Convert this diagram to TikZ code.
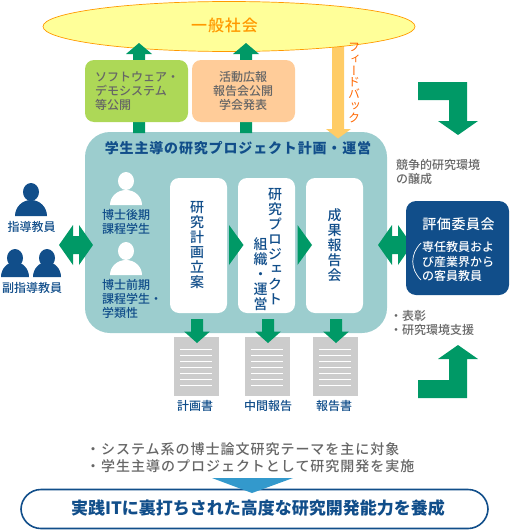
\documentclass[tikz,border=0pt]{standalone}
\usepackage{fontspec}
\newfontfamily\jp{Noto Sans CJK JP}
\newfontfamily\jpb{Noto Sans CJK JP Medium}
\newfontfamily\jpvb[RawFeature={+vert}]{Noto Sans CJK JP Medium}
\newfontfamily\jpv[RawFeature={+vert}]{Noto Sans CJK JP}
\definecolor{agreen}{HTML}{009966}
\definecolor{navy}{HTML}{114E8A}
\definecolor{teal}{HTML}{9CCDCE}
\definecolor{gtxt}{HTML}{666666}
\definecolor{sorange}{HTML}{FFCC99}
\definecolor{lime}{HTML}{ADD857}
\definecolor{fb}{HTML}{FFCC66}
\definecolor{docg}{HTML}{CCCCCC}
\definecolor{oline}{HTML}{FF9900}
\definecolor{ored}{HTML}{FF6600}
\definecolor{sky}{HTML}{3399CC}
\definecolor{ellfill}{HTML}{FFFF99}
\tikzset{
  gtext/.style={inner sep=0pt,text=gtxt,font=\jpb\fontsize{12}{14.2}\selectfont},
  ntext/.style={inner sep=0pt,text=navy,font=\jpb\fontsize{12}{14.2}\selectfont},
  vtext/.style={inner sep=0pt,text=navy,align=center,font=\jpvb\fontsize{14}{15}\selectfont},
  whitebox/.style={fill=white,rounded corners=9pt},
  grn/.style={fill=agreen},
}
\newcommand{\UpArrow}[3]{% cx, tip y, shaft bottom y
  \fill[grn] (#1-6,#3) -- (#1-6,#2+11) -- (#1-13,#2+11) -- (#1,#2) -- (#1+13,#2+11) -- (#1+6,#2+11) -- (#1+6,#3) -- cycle;}
\newcommand{\DownArrow}[1]{% cx
  \fill[grn] (#1-6,319) -- (#1-6,331.5) -- (#1-13,331.5) -- (#1,343) -- (#1+13,331.5) -- (#1+6,331.5) -- (#1+6,319) -- cycle;}
\newcommand{\Tri}[1]{\fill[grn] (#1,225) -- (#1+14.5,245) -- (#1,265) -- cycle;}
\newcommand{\DblArrow}[1]{% left tip x
  \fill[grn] (#1,245) -- (#1+14,225) -- (#1+14,236) -- (#1+20,236) -- (#1+20,225) -- (#1+34,245)
    -- (#1+20,265) -- (#1+20,254) -- (#1+14,254) -- (#1+14,265) -- cycle;}
\newcommand{\Person}[6]{% cx, head y, bottom y, half width, body height, colour
  \fill[#6] (#1,#2) ellipse [x radius=8pt,y radius=9pt];
  \fill[#6] (#1-#4,#3) arc [start angle=180,end angle=0,x radius=#4pt,y radius=#5pt] -- cycle;}
\newcommand{\Doc}[1]{% left x
  \fill[docg] (#1,337) rectangle (#1+45,395.5);
  \foreach \yy in {349.3,355.3,361.3,367.3,373.3,379.3,385.3}
    \draw[white,line width=0.7pt] (#1+6,\yy) -- (#1+38,\yy);}
\begin{document}
\begin{tikzpicture}[x=1pt,y=-1pt]
\useasboundingbox (0,0) rectangle (509,530);
% main panel
\fill[teal,rounded corners=25pt] (85,132) rectangle (387,333);
% feedback arrow, running from under the ellipse onto the panel
\fill[fb] (332,40) -- (344,40) -- (344,129) -- (351,129) -- (338,138.5) -- (326,129) -- (332,129) -- cycle;
% ellipse
\draw[oline,line width=0.7pt,fill=ellfill] (229,26.5) ellipse [x radius=186pt,y radius=25pt];
\UpArrow{139}{43}{133}
\UpArrow{246}{43}{133}
\node[inner sep=0pt,text=oline,font=\jpb\fontsize{16}{18}\selectfont\addfontfeature{LetterSpace=6}] (society) at (224.5,25) {一般社会};
% publication boxes
\fill[lime,rounded corners=9pt] (85,60) rectangle (188,122);
\fill[sorange,rounded corners=9pt] (192,60) rectangle (295,122);
\node[gtext,anchor=west,align=left] (soft) at (95,91) {ソフトウェア・\\デモシステム\\等公開};
\node[gtext,align=center] (pr) at (243,91) {活動広報\\報告会公開\\学会発表};
\node[inner sep=0pt,text=navy,font=\jp\bfseries\fontsize{14}{16}\selectfont\addfontfeature{LetterSpace=6}] (title) at (238,148) {学生主導の研究プロジェクト計画・運営};
\node[inner sep=0pt,text=ored,align=center,font=\jpv\fontsize{12}{11.7}\selectfont] (feedback) at (354,83) {フ\\ィ\\ー\\ド\\バ\\ッ\\ク};
% students
\Person{126}{181}{205}{16}{15}{white}
\Person{126}{251}{275}{16}{15}{white}
\node[ntext,anchor=west,align=left] (dr) at (102,222) {博士後期\\課程学生};
\node[ntext,anchor=west,align=left] (ms) at (102,299) {博士前期\\課程学生・\\学類性};
% stages
\fill[whitebox] (170,178) rectangle (227,313);
\fill[whitebox] (238,178) rectangle (295,313);
\fill[whitebox] (306,178) rectangle (363,313);
\node[vtext] (plan) at (197,245.5) {研\\究\\計\\画\\立\\案};
\node[vtext] (proj) at (275,246.5) {研\\究\\プ\\ロ\\ジ\\ェ\\ク\\ト};
\node[vtext] (org) at (260.5,274) {組\\織\\・\\運\\営};
\node[vtext] (rep) at (334.5,245) {成\\果\\報\\告\\会};
\Tri{229}
\Tri{297.5}
% advisers
\Person{31}{192}{216}{16}{16}{navy}
\Person{15}{258}{277}{14}{15}{navy}
\Person{47}{258}{277}{14}{15}{navy}
\node[ntext] (adv) at (31.5,227) {指導教員};
\node[ntext] (sub) at (32,288) {副指導教員};
\DblArrow{59}
\DblArrow{378}
% committee
\fill[navy,rounded corners=10pt] (406,201) rectangle (509,295);
\node[inner sep=0pt,text=white,font=\jpb\fontsize{14}{16}\selectfont\addfontfeature{LetterSpace=4}] (cttee) at (458.5,224) {評価委員会};
\node[inner sep=0pt,text=white,anchor=west,align=left,font=\jpb\fontsize{12}{14.4}\selectfont] (cmem) at (422,261.5) {専任教員およ\\び産業界から\\の客員教員};
\draw[white,line width=0.7pt] (421,243) .. controls (410,254) and (410,269) .. (421,280);
% right notes
\node[gtext,anchor=west,align=left] (comp) at (396,172) {競争的研究環境\\の醸成};
\node[gtext,anchor=west,align=left] (award) at (390,323) {・表彰\\・研究環境支援};
% corner arrows
\fill[grn] (418,82) -- (467,82) -- (467,121) -- (478,121) -- (458,135) -- (438,121) -- (449,121) -- (449,100) -- (418,100) -- cycle;
\fill[grn] (418,398) -- (467,398) -- (467,359) -- (478,359) -- (458,345) -- (438,359) -- (449,359) -- (449,380) -- (418,380) -- cycle;
% documents
\Doc{174}\Doc{245}\Doc{313}
\DownArrow{197}\DownArrow{268}\DownArrow{336}
\node[ntext] (d1) at (195,406) {計画書};
\node[ntext] (d2) at (268,406) {中間報告};
\node[ntext] (d3) at (334,406) {報告書};
% bottom
\node[inner sep=0pt,anchor=west,align=left,text=gtxt,font=\jpb\fontsize{14}{16.5}\selectfont\addfontfeature{LetterSpace=7}] (aims) at (86,457.5) {・システム系の博士論文研究テーマを主に対象\\・学生主導のプロジェクトとして研究開発を実施};
\draw[navy,line width=1.6pt,rounded corners=20pt,fill=white] (21,489.5) rectangle (488,528.5);
\fill[sky] (212,478) -- (293,478) -- (252,493) -- cycle;
\node[inner sep=0pt,text=navy,font=\jp\bfseries\fontsize{17}{19}\selectfont] (goal) at (258,508) {実践ITに裏打ちされた高度な研究開発能力を養成};
\end{tikzpicture}
\end{document}
